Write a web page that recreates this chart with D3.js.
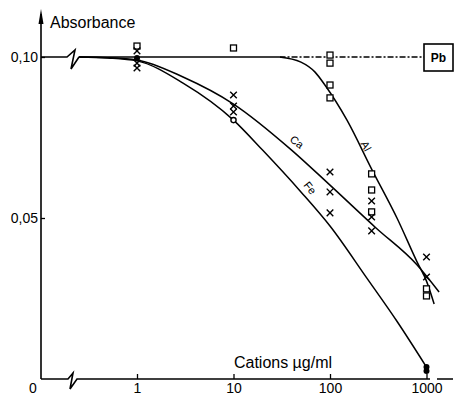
<!DOCTYPE html>
<html>
<head>
<meta charset="utf-8">
<script src="https://cdn.jsdelivr.net/npm/d3@7"></script>
<style>
  body { margin: 0; background: #fff; }
  svg { display: block; font-family: "Liberation Sans", Arial, sans-serif; }
</style>
</head>
<body>
<svg id="chart" width="455" height="396"></svg>
<script>
const xTicks = [1, 10, 100, 1000];
const yTicks = [0.05, 0.10];

// fitted curves, [µg/ml, absorbance]
const caCurve = [[0.25, 0.1], [0.5, 0.0998], [1, 0.0991], [3, 0.0938], [10, 0.0854], [40, 0.0711], [100, 0.0602], [300, 0.0469], [800, 0.0354], [1350, 0.027]];
const feCurve = [[0.25, 0.1], [0.5, 0.0997], [1, 0.0988], [3, 0.0919], [10, 0.0804], [20, 0.0711], [50, 0.0581], [100, 0.0475], [240, 0.0314], [500, 0.0177], [1000, 0.0037]];
const alCurve = [[30, 0.1], [50, 0.0984], [70, 0.0953], [90, 0.091], [150, 0.0804], [270, 0.0652], [500, 0.0497], [800, 0.0363], [1000, 0.0304], [1200, 0.0233]];
const pbSolid = [[0.25, 0.1], [30, 0.1]];
const pbDashed = [[30, 0.1], [940, 0.1]];

// measured points
const squares = [[1, 0.1034], [10, 0.1028], [100, 0.1006], [100, 0.0981], [100, 0.0913], [100, 0.0873], [270, 0.0637], [270, 0.0587], [270, 0.0519], [1000, 0.028], [1000, 0.0258]];
const crosses = [[1, 0.1019], [1, 0.0981], [1, 0.0966], [10, 0.0882], [10, 0.0848], [10, 0.0829], [100, 0.0643], [100, 0.0581], [100, 0.0516], [270, 0.0553], [270, 0.0503], [270, 0.046], [1000, 0.0379], [1000, 0.0317]];
const dots = [[1, 0.0997], [1000, 0.0037], [1000, 0.0025]];
const rings = [[10, 0.0804]];

const svg = d3.select('#chart');
const x0 = 41, y0 = 379;

const x = d3.scaleLog().domain([1, 1000]).range([137, 426.5]);
const y = d3.scaleLinear().domain([0, 0.1]).range([y0, 57]);
const comma = d3.formatLocale({ decimal: ',', thousands: '.', grouping: [3], currency: ['', ''] });

// x axis
const xAxis = svg.append('g')
  .attr('transform', `translate(0,${y0})`)
  .call(d3.axisBottom(x).tickValues(xTicks).tickFormat(d3.format('d')).tickSize(-5).tickPadding(4));
xAxis.select('.domain').remove();
xAxis.selectAll('line').attr('stroke-width', 1.3);
xAxis.selectAll('text').attr('font-size', 14).attr('fill', '#000').attr('font-family', 'Liberation Sans, Arial, sans-serif');

svg.append('text').attr('x', 33).attr('y', 393).attr('text-anchor', 'middle').attr('font-size', 14).text('0');

svg.append('path')
  .attr('d', `M${x0},${y0}H68L73,373L70,389L77,${y0}H430M437,${y0}H453`)
  .attr('fill', 'none').attr('stroke', '#000').attr('stroke-width', 1.6);

// y axis
const yAxis = svg.append('g')
  .attr('transform', `translate(${x0},0)`)
  .call(d3.axisLeft(y).tickValues(yTicks).tickFormat(comma.format('.2f')).tickSize(-4).tickPadding(3));
yAxis.select('.domain').remove();
yAxis.selectAll('line').attr('stroke-width', 1.3);
yAxis.selectAll('text').attr('font-size', 14).attr('fill', '#000').attr('font-family', 'Liberation Sans, Arial, sans-serif');

svg.append('line').attr('x1', x0).attr('x2', x0).attr('y1', y0).attr('y2', 14)
  .attr('stroke', '#000').attr('stroke-width', 1.6);
svg.append('path').attr('d', `M${x0},9L${x0 + 2.5},24L${x0 - 2.5},24Z`).attr('fill', '#000');

svg.append('text').attr('x', 50).attr('y', 28).attr('font-size', 16).text('Absorbance');
svg.append('text').attr('x', 283).attr('y', 368).attr('text-anchor', 'middle').attr('font-size', 16).text('Cations µg/ml');

// break on the top line
svg.append('path')
  .attr('d', `M${x0},${y(0.1)}H67L75,50L71,69L79,${y(0.1)}`)
  .attr('fill', 'none').attr('stroke', '#000').attr('stroke-width', 1.6);

const line = d3.line().x(d => x(d[0])).y(d => y(d[1])).curve(d3.curveMonotoneX);

[caCurve, feCurve, alCurve, pbSolid].forEach(c => {
  svg.append('path').datum(c).attr('d', line)
    .attr('fill', 'none').attr('stroke', '#000').attr('stroke-width', 1.5);
});
svg.append('path').datum(pbDashed).attr('d', line)
  .attr('fill', 'none').attr('stroke', '#000').attr('stroke-width', 1.3)
  .attr('stroke-dasharray', '6,2,2,2');

// Pb box
svg.append('rect').attr('x', 424).attr('y', 44).attr('width', 29).attr('height', 27)
  .attr('fill', '#fff').attr('stroke', '#000').attr('stroke-width', 1.6);
svg.append('text').attr('x', 438.5).attr('y', 62).attr('text-anchor', 'middle')
  .attr('font-size', 12).attr('font-weight', 'bold').text('Pb');

// curve labels
[['Ca', 297, 142, 38], ['Fe', 310, 188, 52], ['Al', 366, 146, 62]].forEach(([t, lx, ly, r]) => {
  svg.append('text').attr('transform', `translate(${lx},${ly}) rotate(${r})`)
    .attr('text-anchor', 'middle').attr('dy', '0.35em').attr('font-size', 11)
    .attr('fill', '#000').text(t);
});

// markers
svg.selectAll('.sq').data(squares).join('rect').attr('class', 'sq')
  .attr('x', d => x(d[0]) - 3).attr('y', d => y(d[1]) - 3)
  .attr('width', 6).attr('height', 6)
  .attr('fill', '#fff').attr('stroke', '#000').attr('stroke-width', 1.3);

const cross = d3.symbol().type(d3.symbolTimes).size(30);
svg.selectAll('.cx').data(crosses).join('path').attr('class', 'cx')
  .attr('transform', d => `translate(${x(d[0])},${y(d[1])})`)
  .attr('d', cross).attr('fill', 'none').attr('stroke', '#000').attr('stroke-width', 1.4);

svg.selectAll('.dot').data(dots).join('circle').attr('class', 'dot')
  .attr('cx', d => x(d[0])).attr('cy', d => y(d[1])).attr('r', 3).attr('fill', '#000');
svg.selectAll('.ring').data(rings).join('circle').attr('class', 'ring')
  .attr('cx', d => x(d[0])).attr('cy', d => y(d[1])).attr('r', 2.6)
  .attr('fill', '#fff').attr('stroke', '#000').attr('stroke-width', 1.4);
</script>
</body>
</html>
